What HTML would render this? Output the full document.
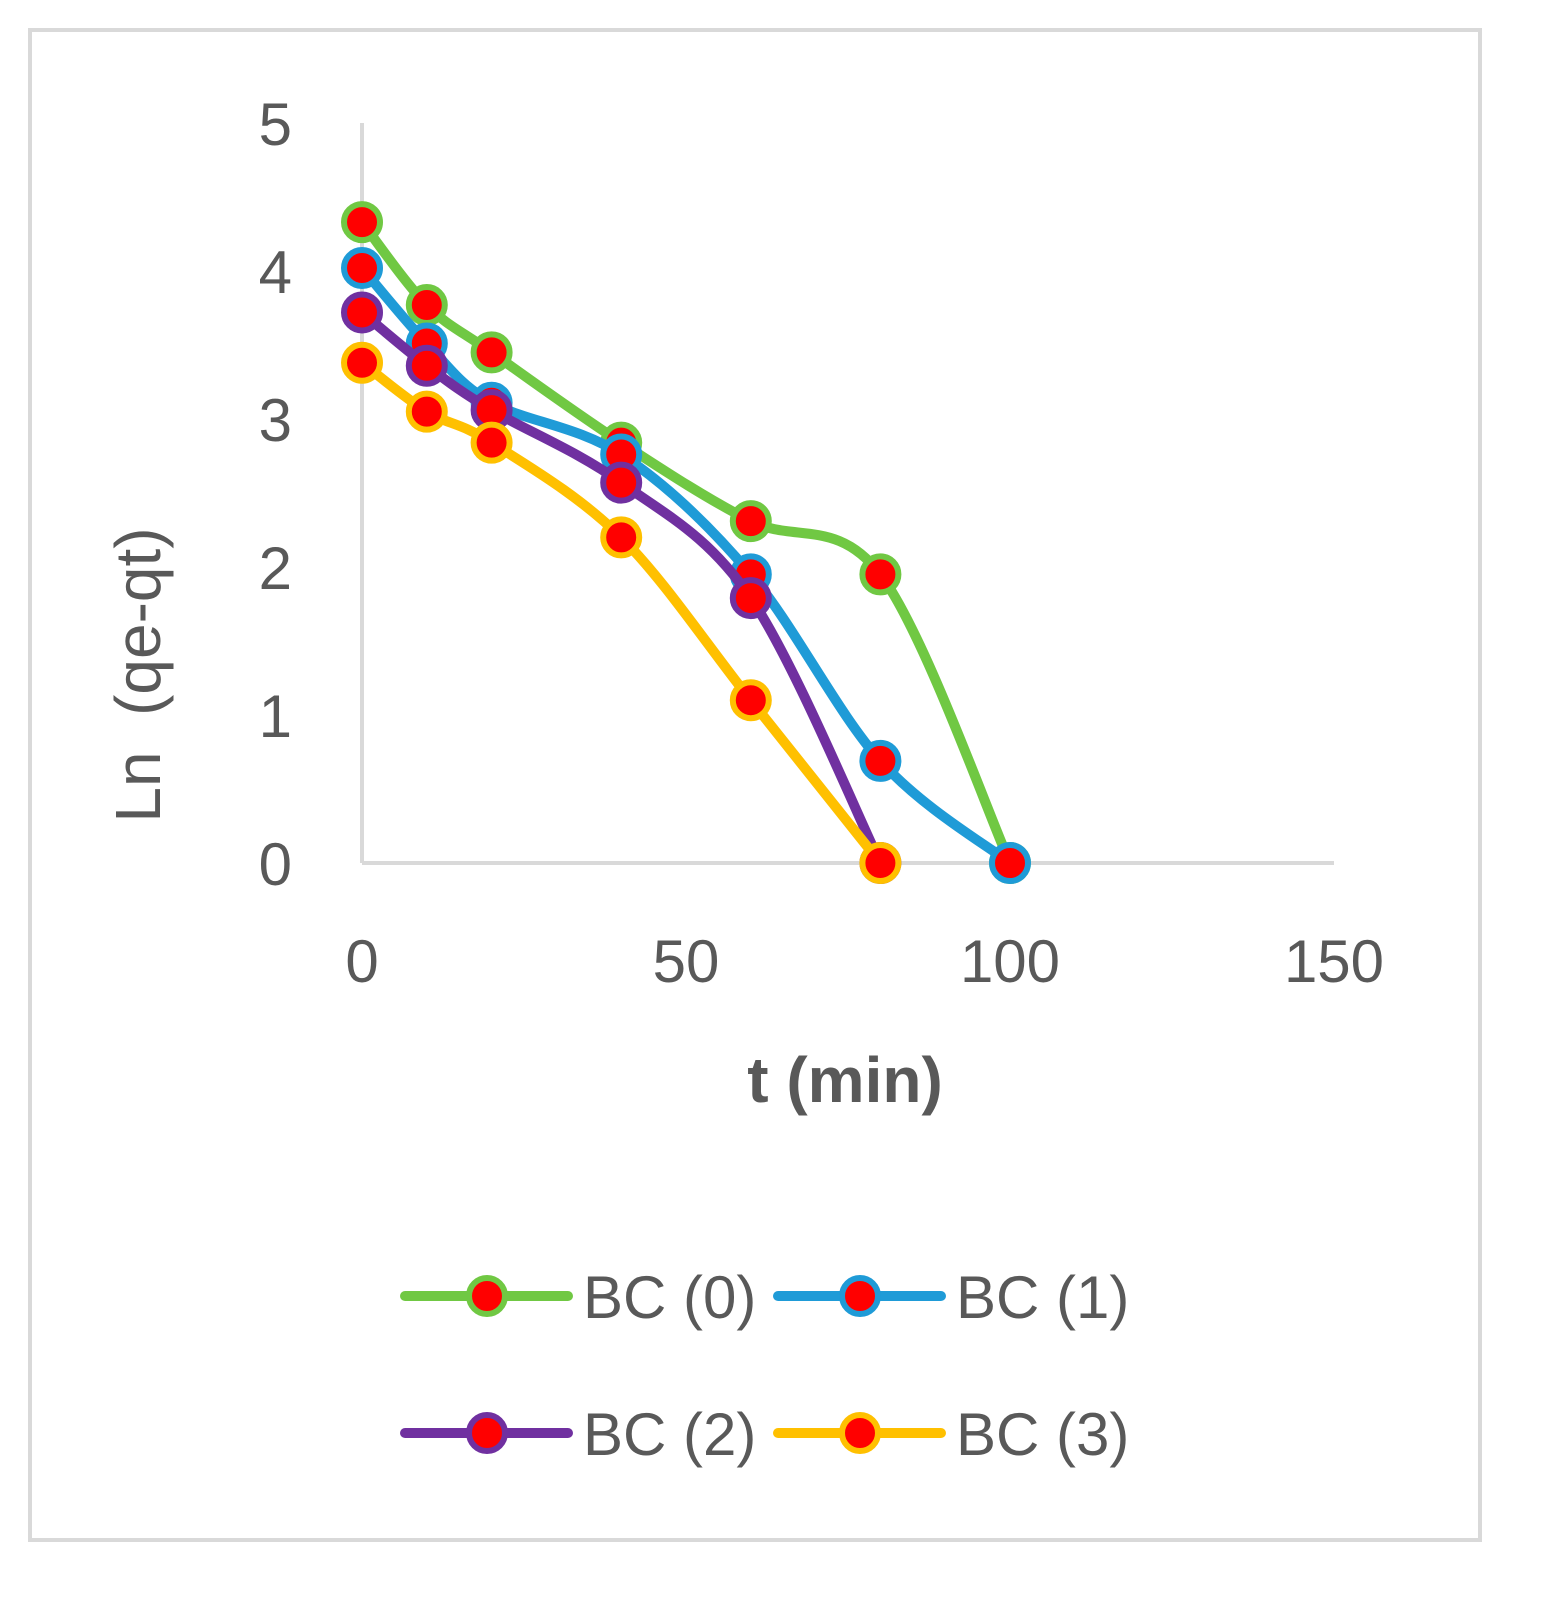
<!DOCTYPE html>
<html><head><meta charset="utf-8"><style>
body{margin:0;background:#fff}
svg{display:block}
text{font-family:"Liberation Sans",sans-serif;fill:#595959}
</style></head><body>
<svg width="1546" height="1603" viewBox="0 0 1546 1603">
<rect x="30" y="30" width="1450" height="1510" fill="#fff" stroke="#d9d9d9" stroke-width="4"/>
<g id="axes"></g>
<g id="series"></g>
<g id="legend"></g>
<text x="160" y="675" font-size="64" text-anchor="middle" style="white-space:pre" transform="rotate(-90 160 675)">Ln  (qe-qt)</text>
<text x="845" y="1102" font-size="64" font-weight="bold" text-anchor="middle">t (min)</text>
</svg>
<script>
const times=[0,10,20,40,60,80,100];
const bc0=[4.33,3.77,3.45,2.84,2.31,1.95,0];
const bc1=[4.02,3.51,3.11,2.76,1.95,0.69,0];
const bc2=[3.72,3.36,3.06,2.57,1.79,0];
const bc3=[3.38,3.05,2.84,2.20,1.10,0];
const xTicks=[0,50,100,150];
const yTicks=[0,1,2,3,4,5];
const seriesNames=["BC (0)","BC (1)","BC (2)","BC (3)"];
const colors=["#70c843","#1f9bd7","#7030a0","#ffc000"];
const NS="http://www.w3.org/2000/svg";
const X=v=>362+v*6.48, Y=v=>863-v*148;
function mk(tag,attrs,parent){const e=document.createElementNS(NS,tag);for(const k in attrs)e.setAttribute(k,attrs[k]);parent.appendChild(e);return e;}
const ax=document.getElementById('axes');
let l=mk('line',{x1:X(0),y1:Y(0),x2:X(150),y2:Y(0),stroke:'#d9d9d9','stroke-width':4},ax);


l=mk('line',{x1:X(0),y1:Y(0),x2:X(0),y2:Y(5),stroke:'#d9d9d9','stroke-width':4},ax);


xTicks.forEach(t=>{const e=mk('text',{x:X(t),y:982,'font-size':60,'text-anchor':'middle'},ax);e.textContent=t;

});
yTicks.forEach(t=>{const e=mk('text',{x:292,y:Y(t)+22,'font-size':60,'text-anchor':'end'},ax);e.textContent=t;

});
function path(pts){let d=`M${pts[0][0]},${pts[0][1]}`;for(let i=0;i<pts.length-1;i++){const p0=pts[Math.max(0,i-1)],p1=pts[i],p2=pts[i+1],p3=pts[Math.min(pts.length-1,i+2)];const t=6;d+=` C${p1[0]+(p2[0]-p0[0])/t},${p1[1]+(p2[1]-p0[1])/t} ${p2[0]-(p3[0]-p1[0])/t},${p2[1]-(p3[1]-p1[1])/t} ${p2[0]},${p2[1]}`;}return d;}
const sg=document.getElementById('series');
const all=[bc0,bc1,bc2,bc3];
all.forEach((s,i)=>{const pts=s.map((v,j)=>[X(times[j]),Y(v)]);
const g=mk('g',{},sg);


mk('path',{d:path(pts),fill:'none',stroke:colors[i],'stroke-width':10,'stroke-linecap':'round'},g);
pts.forEach(p=>{const c=mk('circle',{cx:p[0],cy:p[1],r:18,fill:'#ff0000',stroke:colors[i],'stroke-width':6},g);

});});
const lg=document.getElementById('legend');
const pos=[[405,1296],[778,1296],[405,1433],[778,1433]];
seriesNames.forEach((n,i)=>{const [x,y]=pos[i];const g=mk('g',{},lg);


mk('line',{x1:x,y1:y,x2:x+163,y2:y,stroke:colors[i],'stroke-width':10,'stroke-linecap':'round'},g);
mk('circle',{cx:x+82,cy:y,r:18,fill:'#ff0000',stroke:colors[i],'stroke-width':6},g);
const t=mk('text',{x:x+178,y:y+22,'font-size':60},g);t.textContent=n;});
</script>
</body></html>
